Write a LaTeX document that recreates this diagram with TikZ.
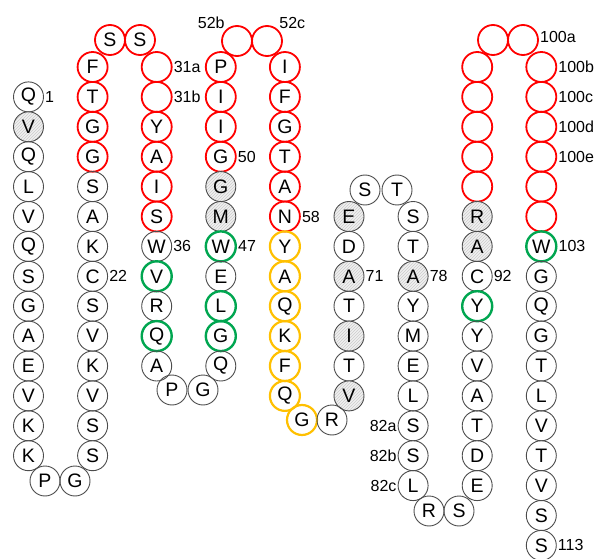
\documentclass[tikz,border=0pt]{standalone}
\usepackage{fontspec}
\setmainfont{Liberation Sans}
\usetikzlibrary{patterns}
\definecolor{cdrred}{RGB}{255,0,0}
\definecolor{anchgreen}{RGB}{0,166,80}
\definecolor{ddorange}{RGB}{255,192,0}
\tikzset{
  res/.style={circle, draw=black!70, line width=0.9pt, minimum size=30pt, inner sep=0pt,
    font=\fontsize{19.5}{19.5}\selectfont},
  cdr/.style={res, draw=cdrred, line width=1.8pt},
  anch/.style={res, draw=anchgreen, line width=2.4pt},
  dd/.style={res, draw=ddorange, line width=2.2pt},
  hyd/.style={res, preaction={fill=gray!12}, pattern=north east lines, pattern color=gray!40},
  num/.style={font=\fontsize{16}{16}\selectfont, inner sep=1pt},
}
\begin{document}
\begin{tikzpicture}[x=1pt, y=-1pt]
    \useasboundingbox (0,0) rectangle (595,559);

    % strands, top to bottom
    \foreach \aa/\st [count=\n] in {Q/res, V/hyd, Q/res, L/res, V/res, Q/res, S/res, G/res,
        A/res, E/res, V/res, K/res, K/res}
      \node[\st] (a\n) at (28.5, {37.1+29.9*(\n+1)}) {\aa};
    \foreach \aa/\st [count=\n] in {F/cdr, T/cdr, G/cdr, G/cdr, S/res, A/res, K/res, C/res,
        S/res, V/res, K/res, V/res, S/res, S/res}
      \node[\st] (b\n) at (92.6, {37.1+29.9*\n}) {\aa};
    \foreach \aa/\st [count=\n] in {{}/cdr, {}/cdr, Y/cdr, A/cdr, I/cdr, S/cdr, W/res, V/anch,
        R/res, Q/anch, A/res}
      \node[\st] (c\n) at (156.7, {37.1+29.9*\n}) {\aa};
    \foreach \aa/\st [count=\n] in {P/cdr, I/cdr, I/cdr, G/cdr, G/hyd, M/hyd, W/anch, E/res,
        L/anch, G/anch, Q/res}
      \node[\st] (d\n) at (220.8, {37.1+29.9*\n}) {\aa};
    \foreach \aa/\st [count=\n] in {I/cdr, F/cdr, G/cdr, T/cdr, A/cdr, N/cdr, Y/dd, A/dd,
        Q/dd, K/dd, F/dd, Q/dd}
      \node[\st] (e\n) at (284.9, {37.1+29.9*\n}) {\aa};
    \foreach \aa/\st [count=\n] in {E/hyd, D/res, A/hyd, T/res, I/hyd, T/res, V/hyd}
      \node[\st] (f\n) at (349, {37.1+29.9*(\n+5)}) {\aa};
    \foreach \aa/\st [count=\n] in {S/res, T/res, A/hyd, Y/res, M/res, E/res, L/res, S/res,
        S/res, L/res}
      \node[\st] (g\n) at (413.1, {37.1+29.9*(\n+5)}) {\aa};
    \foreach \aa/\st [count=\n] in {{}/cdr, {}/cdr, {}/cdr, {}/cdr, {}/cdr, R/hyd, A/hyd, C/res,
        Y/anch, Y/res, V/res, A/res, T/res, D/res, E/res}
      \node[\st] (h\n) at (477.2, {37.1+29.9*\n}) {\aa};
    \foreach \aa/\st [count=\n] in {{}/cdr, {}/cdr, {}/cdr, {}/cdr, {}/cdr, {}/cdr, W/anch,
        G/res, Q/res, G/res, T/res, L/res, V/res, T/res, V/res, S/res, S/res}
      \node[\st] (i\n) at (541.3, {37.1+29.9*\n}) {\aa};

    % turns
    \node[res] (ab1) at (45,481) {P};
    \node[res] (ab2) at (75,481) {G};
    \node[cdr] (bc1) at (110,40) {S};
    \node[cdr] (bc2) at (140,40) {S};
    \node[res] (cd1) at (172,390) {P};
    \node[res] (cd2) at (203,390) {G};
    \node[cdr] (de1) at (237,41) {};
    \node[cdr] (de2) at (267,41) {};
    \node[dd]  (ef1) at (302,420) {G};
    \node[res] (ef2) at (332,420) {R};
    \node[res] (fg1) at (365,190) {S};
    \node[res] (fg2) at (397,190) {T};
    \node[res] (gh1) at (429,511) {R};
    \node[res] (gh2) at (459,511) {S};
    \node[cdr] (hi1) at (493,40) {};
    \node[cdr] (hi2) at (523,40) {};

    % positions
    \node[num, anchor=west] at (a1.east) {1};
    \node[num, anchor=west] at (b8.east) {22};
    \node[num, anchor=west] at (c1.east) {31a};
    \node[num, anchor=west] at (c2.east) {31b};
    \node[num, anchor=west] at (c7.east) {36};
    \node[num, anchor=west] at (d7.east) {47};
    \node[num, anchor=west] at (d4.east) {50};
    \node[num, anchor=south east] at (de1.north west) {52b};
    \node[num, anchor=south west] at (de2.north east) {52c};
    \node[num, anchor=west] at (e6.east) {58};
    \node[num, anchor=west] at (f3.east) {71};
    \node[num, anchor=west] at (g3.east) {78};
    \node[num, anchor=east] at (g8.west) {82a};
    \node[num, anchor=east] at (g9.west) {82b};
    \node[num, anchor=east] at (g10.west) {82c};
    \node[num, anchor=west] at (h8.east) {92};
    \node[num, anchor=west, yshift=3pt] at (hi2.east) {100a};
    \node[num, anchor=west] at (i1.east) {100b};
    \node[num, anchor=west] at (i2.east) {100c};
    \node[num, anchor=west] at (i3.east) {100d};
    \node[num, anchor=west] at (i4.east) {100e};
    \node[num, anchor=west] at (i7.east) {103};
    \node[num, anchor=west] at (i17.east) {113};
\end{tikzpicture}
\end{document}
